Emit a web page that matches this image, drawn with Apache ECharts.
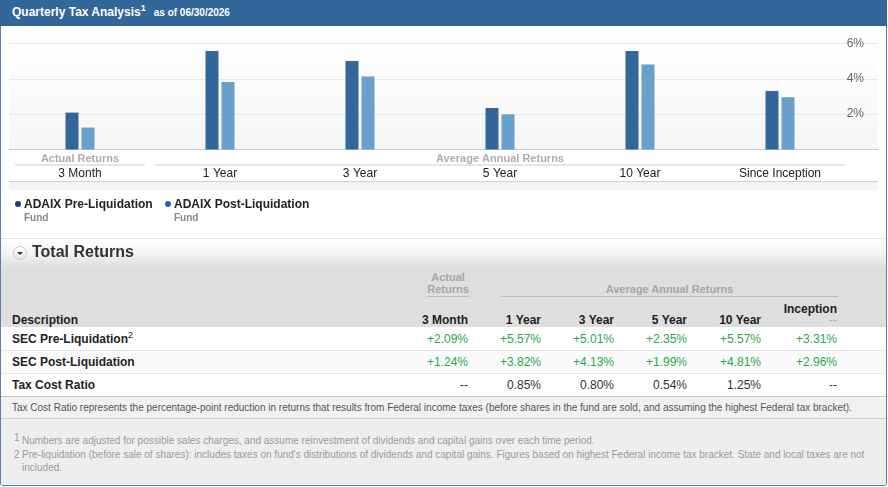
<!DOCTYPE html>
<html lang="en">
<head>
    <meta charset="UTF-8">
    <title>Quarterly Tax Analysis</title>
    <script src="https://cdn.jsdelivr.net/npm/echarts@6/dist/echarts.min.js"></script>
    <style>
        body {
            margin: 0;
            font-family: Arial, "Liberation Sans", sans-serif;
            width: 888px;
            height: 487px;
            position: relative;
            overflow: hidden;
            background: #fff;
        }

        .abs {
            position: absolute;
        }

        #frame {
            left: 0; top: 0;
            width: 885px; height: 484px;
            border: 1px solid #5a7eb0;
            border-radius: 0 0 3px 3px;
        }

        #hdr {
            left: 0; top: 0;
            width: 887px; height: 26px;
            background: #336699;
            color: #fff;
            font-weight: bold;
        }

        #hdr .t {
            position: absolute;
            left: 12px; top: 5px;
            font-size: 12px;
        }

        #hdr .t sup {
            font-size: 9px;
            vertical-align: top;
            position: relative;
            top: -2px;
        }

        #hdr .d {
            font-size: 10px;
            margin-left: 8px;
        }

        #chart {
            left: 0; top: 25px;
            width: 888px; height: 207px;
        }

        .leg {
            top: 197px;
            font-size: 12px;
            font-weight: bold;
            color: #222;
        }

        .leg i {
            display: inline-block;
            width: 6px; height: 6px;
            border-radius: 3px;
            margin-right: 3px;
            vertical-align: 1px;
        }

        .leg span {
            display: block;
            font-size: 10px;
            color: #888;
            margin-left: 9px;
            line-height: 13px;
        }

        #trHead {
            left: 1px; top: 238px;
            width: 885px; height: 29px;
            border-top: 1px solid #e2e2e2;
            background: linear-gradient(#ffffff, #f4f4f4 45%, #dedede);
        }

        #trHead .ic {
            position: absolute;
            left: 12px; top: 7px;
            width: 12px; height: 12px;
            border-radius: 7px;
            border: 1px solid #c9c9c9;
            background: linear-gradient(#ffffff, #e6e6e6);
        }

        #trHead .ic:after {
            content: '';
            position: absolute;
            left: 3px; top: 5px;
            border-left: 3px solid transparent;
            border-right: 3px solid transparent;
            border-top: 3px solid #333;
        }

        #trHead .tt {
            position: absolute;
            left: 31px; top: 4px;
            font-size: 16px;
            font-weight: bold;
            color: #333;
        }

        #thBg {
            left: 1px; top: 267px;
            width: 885px; height: 60px;
            background: #dedede;
        }

        .grp {
            font-size: 11px;
            font-weight: bold;
            color: #a6a6a6;
            text-align: center;
            line-height: 12px;
            border-bottom: 1px solid #bdbdbd;
        }

        #tbl {
            left: 1px; top: 297px;
            width: 885px;
            border-collapse: collapse;
            table-layout: fixed;
            font-size: 12px;
        }

        #tbl td {
            padding: 0;
            text-align: right;
            white-space: nowrap;
        }

        #tbl tr.h td {
            height: 29px;
            vertical-align: bottom;
            font-weight: bold;
            color: #222;
            padding-bottom: 1px;
            line-height: 14px;
        }

        #tbl tr.h td.inc {
            line-height: 11px;
            padding-bottom: 2px;
        }

        #tbl tr.h td.inc div {
            color: #aaa;
            font-weight: normal;
        }

        #tbl tr.r td {
            height: 22px;
            border-bottom: 1px solid #e6e6e6;
            color: #27a84a;
        }

        #tbl tr.r:nth-child(3) td {
            background: #fafafa;
        }

        #tbl tr.r.last td {
            color: #333;
            border-bottom: 1px solid #c8c8c8;
        }

        #tbl td.desc {
            text-align: left;
            padding-left: 11px;
            font-weight: bold;
            color: #222 !important;
        }

        #tbl td.desc sup {
            font-size: 9px;
            font-weight: normal;
            vertical-align: top;
            position: relative;
            top: -2px;
        }

        #note {
            left: 1px; top: 397px;
            width: 874px; height: 21px;
            padding-left: 11px;
            background: #f1f1f1;
            border-bottom: 1px solid #cdcdcd;
            font-size: 10px;
            line-height: 21px;
            color: #555;
        }

        #foot {
            left: 1px; top: 419px;
            width: 885px; height: 66px;
            background: #eeeeee;
            font-size: 10px;
            color: #9a9a9a;
            border-radius: 0 0 3px 3px;
        }

        #foot p {
            position: absolute;
            left: 21px;
            margin: 0;
            width: 845px;
            line-height: 13px;
        }

        #foot b {
            position: absolute;
            left: -8px;
            font-weight: normal;
        }
    </style>
</head>
<body>
<div id="frame" class="abs"></div>
<div id="hdr" class="abs">
    <div class="t">Quarterly Tax Analysis<sup>1</sup><span class="d">as of 06/30/2026</span></div>
</div>
<div id="chart" class="abs"></div>
<div class="abs leg" style="left:15px"><i style="background:#1c3d78"></i>ADAIX Pre-Liquidation<span>Fund</span></div>
<div class="abs leg" style="left:165px"><i style="background:#2266bb"></i>ADAIX Post-Liquidation<span>Fund</span></div>

<div id="trHead" class="abs"><div class="ic"></div><div class="tt">Total Returns</div></div>
<div id="thBg" class="abs"></div>
<div class="abs grp" style="left:427px;top:271px;width:42px;height:25px">Actual<br>Returns</div>
<div class="abs grp" style="left:501px;top:283px;width:337px;height:13px">Average Annual Returns</div>
<table id="tbl" class="abs">
    <colgroup>
        <col style="width:394px"><col style="width:73px"><col style="width:73px"><col style="width:73px">
        <col style="width:73px"><col style="width:74px"><col style="width:76px"><col>
    </colgroup>
    <tbody id="tbody"></tbody>
</table>
<div id="note" class="abs">Tax Cost Ratio represents the percentage-point reduction in returns that results from Federal income taxes (before shares in the fund are sold, and assuming the highest Federal tax bracket).</div>
<div id="foot" class="abs">
    <p style="top:15px"><b style="top:-3px">1</b>Numbers are adjusted for possible sales charges, and assume reinvestment of dividends and capital gains over each time period.</p>
    <p style="top:29px"><b>2</b>Pre-liquidation (before sale of shares): includes taxes on fund's distributions of dividends and capital gains. Figures based on highest Federal income tax bracket. State and local taxes are not included.</p>
</div>

<script>
    // data
    var categories = ['3 Month', '1 Year', '3 Year', '5 Year', '10 Year', 'Since Inception']
    var colHeads = ['3 Month', '1 Year', '3 Year', '5 Year', '10 Year', 'Inception']
    var preLiq = [2.09, 5.57, 5.01, 2.35, 5.57, 3.31]
    var postLiq = [1.24, 3.82, 4.13, 1.99, 4.81, 2.96]
    var taxCost = [null, 0.85, 0.80, 0.54, 1.25, null]
    var seriesNames = ['ADAIX Pre-Liquidation', 'ADAIX Post-Liquidation']
    var groupNames = ['Actual Returns', 'Average Annual Returns']
    var groupFrom = [0, 1]
    var groupTo = [0, 5]
    var yMin = 0, yMax = 6, yStep = 2

    var font = 'Arial, "Liberation Sans", sans-serif'

    // table
    function fmtRet (v) {
        return v == null ? '--' : (v >= 0 ? '+' : '') + v.toFixed(2) + '%'
    }

    function fmtPlain (v) {
        return v == null ? '--' : v.toFixed(2) + '%'
    }

    function buildTable () {
        var html = '<tr class="h"><td class="desc">Description</td>'
        colHeads.forEach(function (h, i) {
            if (i === colHeads.length - 1) {
                html += '<td class="inc">' + h + '<div>--</div></td>'
            } else {
                html += '<td>' + h + '</td>'
            }
        })
        html += '<td></td></tr>'
        var rows = [
            ['SEC Pre-Liquidation<sup>2</sup>', preLiq, fmtRet, ''],
            ['SEC Post-Liquidation', postLiq, fmtRet, ''],
            ['Tax Cost Ratio', taxCost, fmtPlain, ' last']
        ]
        rows.forEach(function (r) {
            html += '<tr class="r' + r[3] + '"><td class="desc">' + r[0] + '</td>'
            r[1].forEach(function (v) {
                html += '<td>' + r[2](v) + '</td>'
            })
            html += '<td></td></tr>'
        })
        document.getElementById('tbody').innerHTML = html
    }

    // chart
    function buildChart () {
        var chart = echarts.init(document.getElementById('chart'))
        var option = {
            animation: false,
            textStyle: {fontFamily: font},
            grid: [
                {left: 10, width: 840, top: 18.5, height: 106},
                {left: 9, right: 10, top: 18.5, height: 106}
            ],
            xAxis: [{
                type: 'category',
                gridIndex: 0,
                data: categories,
                axisLine: {show: false},
                axisTick: {show: false},
                axisLabel: {margin: 18, color: '#222', fontSize: 12, fontFamily: font}
            }, {
                type: 'value',
                gridIndex: 1,
                axisLine: {show: true, lineStyle: {color: '#c8c8c8'}},
                axisTick: {show: false},
                axisLabel: {show: false},
                splitLine: {show: false}
            }],
            yAxis: [{
                type: 'value',
                gridIndex: 0,
                min: yMin, max: yMax, interval: yStep,
                show: false
            }, {
                type: 'value',
                gridIndex: 1,
                position: 'right',
                min: yMin, max: yMax, interval: yStep,
                axisLine: {show: false},
                axisTick: {show: false},
                splitLine: {lineStyle: {color: '#e8e8e8'}},
                axisLabel: {
                    inside: true,
                    margin: 14,
                    color: '#666',
                    fontSize: 12,
                    showMinLabel: false,
                    formatter: '{value}%'
                }
            }],
            series: [{
                name: seriesNames[0],
                type: 'bar',
                barWidth: 13,
                barGap: '23%',
                itemStyle: {color: '#336699'},
                data: preLiq
            }, {
                name: seriesNames[1],
                type: 'bar',
                barWidth: 13,
                itemStyle: {color: '#699fcc'},
                data: postLiq
            }]
        }
        chart.setOption(option)

        // backgrounds and group labels below the category axis
        var c0 = chart.convertToPixel({xAxisIndex: 0}, 0)
        var c1 = chart.convertToPixel({xAxisIndex: 0}, 1)
        var half = (c1 - c0) / 2
        var base = chart.convertToPixel({yAxisIndex: 0}, 0)
        var graphic = [{
            type: 'rect',
            z: -10,
            silent: true,
            shape: {x: 9, y: 5, width: 869, height: base - 5},
            style: {
                fill: new echarts.graphic.LinearGradient(0, 0, 0, 1, [
                    {offset: 0, color: '#ffffff'},
                    {offset: 1, color: '#f6f6f6'}
                ])
            }
        }, {
            type: 'rect',
            z: -10,
            silent: true,
            shape: {x: 9, y: base + 32, width: 869, height: 9, r: [0, 0, 4, 4]},
            style: {fill: '#f4f4f4', stroke: null}
        }, {
            type: 'line',
            silent: true,
            shape: {x1: 9, y1: base + 32, x2: 878, y2: base + 32},
            style: {stroke: '#cfcfcf', lineWidth: 1}
        }]
        groupNames.forEach(function (g, i) {
            var xa = chart.convertToPixel({xAxisIndex: 0}, groupFrom[i]) - half + 5
            var xb = chart.convertToPixel({xAxisIndex: 0}, groupTo[i]) + half - 5
            graphic.push({
                type: 'text',
                silent: true,
                style: {
                    x: (xa + xb) / 2,
                    y: base + 9.5,
                    text: g,
                    align: 'center',
                    verticalAlign: 'middle',
                    fontSize: 11,
                    fontWeight: 'bold',
                    fontFamily: font,
                    fill: '#adadad'
                }
            })
            graphic.push({
                type: 'line',
                silent: true,
                shape: {x1: xa, y1: base + 15.5, x2: xb, y2: base + 15.5},
                style: {stroke: '#cccccc', lineWidth: 1}
            })
        })
        chart.setOption({graphic: graphic})
    }

    buildTable()
    buildChart()
</script>
</body>
</html>
